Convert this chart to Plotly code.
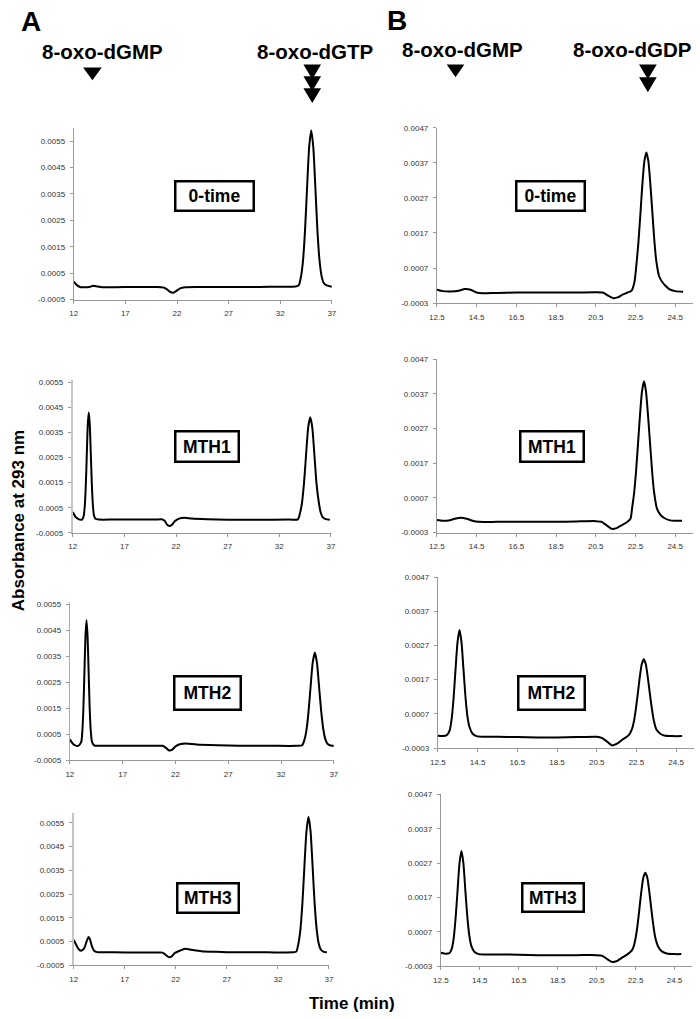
import plotly.graph_objects as go

W, H = 700, 1019

# ---------------- data ----------------
# Panel A (8-oxo-dGTP substrate), time in min, absorbance at 293 nm
a0_t = [12.0, 12.3, 12.6, 13.0, 13.5, 13.9, 14.3, 14.8, 16, 18, 20, 20.7, 21.0, 21.3, 21.6, 21.9, 22.3, 22.8,
        24, 26, 28, 30, 32, 33.5, 33.8, 34.0, 34.2, 34.4, 34.6, 34.8, 35.0, 35.2, 35.4, 35.6, 35.8, 36.0,
        36.2, 36.5, 37.0]
a0_v = [0.00018, 0.00005, -0.00002, -0.00003, -0.00002, 0.00003, 0.0, -0.00003, -0.00003, -0.00002, -0.00002,
        -0.00004, -0.00010, -0.00020, -0.00024, -0.00018, -0.00007, -0.00003, -0.00002, -0.00002, -0.00002,
        -0.00002, -0.00001, 0.0, 0.00005, 0.00035, 0.00096, 0.00212, 0.00375, 0.00527, 0.0059, 0.00527,
        0.00375, 0.00212, 0.00100, 0.00040, 0.00014, 0.00004, -0.00001]

a1_t = [12.0, 12.3, 12.6, 12.9, 13.05, 13.15, 13.25, 13.35, 13.45, 13.55, 13.65, 13.75, 13.85, 13.95, 14.05,
        14.2, 14.5, 16, 18, 20, 20.6, 20.9, 21.1, 21.35, 21.6, 21.9, 22.3, 22.8, 23.5, 25, 27, 30, 33, 33.8,
        34.0, 34.2, 34.4, 34.6, 34.8, 35.0, 35.2, 35.4, 35.6, 35.8, 36.0, 36.2, 36.5, 36.9]
a1_v = [0.00033, 0.00012, 0.00004, 0.00003, 0.00016, 0.0005, 0.00127, 0.0025, 0.00378, 0.0043, 0.00378,
        0.0026, 0.0014, 0.0006, 0.0002, 0.00006, 0.00003, 0.00003, 0.00003, 0.00003, 0.00004, -0.00002,
        -0.00015, -0.00023, -0.00018, -0.00003, 0.00007, 0.0001, 0.00007, 0.00004, 0.00002, 0.00002, 0.00003,
        0.00004, 0.00027, 0.0007, 0.0015, 0.00263, 0.00369, 0.0041, 0.00369, 0.00263, 0.0015, 0.0008, 0.00033,
        0.00013, 0.00005, 0.00002]

a2_t = [12.0, 12.25, 12.5, 12.8, 13.08, 13.18, 13.28, 13.38, 13.48, 13.58, 13.68, 13.78, 13.88, 13.98, 14.1,
        14.3, 14.7, 16, 18, 20, 20.8, 21.1, 21.4, 21.7, 22.0, 22.5, 23.0, 24, 26, 28, 31, 33.5, 34.0, 34.2,
        34.4, 34.6, 34.8, 35.0, 35.2, 35.4, 35.6, 35.8, 36.0, 36.2, 36.4, 36.7, 37.0]
a2_v = [0.0003, 0.00015, 0.00007, 0.00005, 0.0002, 0.00058, 0.00145, 0.00284, 0.00427, 0.0049, 0.00427,
        0.0029, 0.0015, 0.00065, 0.0002, 0.00007, 0.00005, 0.00005, 0.00005, 0.00005, 0.00005, -0.00003,
        -0.00013, -0.0001, 0.00003, 0.00012, 0.00014, 0.0001, 0.00007, 0.00005, 0.00005, 0.00005, 0.00007,
        0.00026, 0.00064, 0.00135, 0.00234, 0.00326, 0.00365, 0.00326, 0.00234, 0.0014, 0.0007, 0.0003,
        0.00013, 0.00006, 0.00005]

a3_t = [12.0, 12.2, 12.45, 12.7, 12.95, 13.1, 13.25, 13.45, 13.6, 13.8, 14.0, 14.3, 14.8, 16, 18, 20, 20.7,
        21.0, 21.3, 21.6, 21.9, 22.4, 22.9, 23.4, 24.5, 26, 28, 31, 33.5, 33.8, 34.0, 34.2, 34.4, 34.6, 34.8,
        35.0, 35.2, 35.4, 35.6, 35.8, 36.0, 36.2, 36.5, 36.8]
a3_v = [0.00057, 0.0004, 0.0002, 0.00012, 0.00018, 0.0003, 0.0005, 0.0007, 0.00058, 0.00028, 0.00012,
        0.00006, 0.00005, 0.00005, 0.00004, 0.00004, 0.00004, -0.00005, -0.00015, -0.00012, 0.00002, 0.00012,
        0.0002, 0.00017, 0.0001, 0.00007, 0.00005, 0.00005, 0.00005, 0.00008, 0.00039, 0.00098, 0.0021,
        0.00367, 0.00514, 0.00575, 0.00514, 0.00367, 0.0021, 0.00102, 0.00042, 0.00017, 0.00007, 0.00005]

# Panel B (8-oxo-dGDP substrate)
b0_t = [12.5, 12.8, 13.2, 13.6, 13.9, 14.2, 14.5, 14.8, 15.5, 16.5, 17.5, 18.5, 19.5, 20.5, 20.85, 21.1, 21.4,
        21.6, 21.85, 22.1, 22.3, 22.45, 22.55, 22.65, 22.75, 22.85, 22.95, 23.05, 23.15, 23.25, 23.35, 23.45,
        23.55, 23.7, 23.85, 24.0, 24.2, 24.5, 24.9]
b0_v = [0.00008, 0.00004, 0.00003, 0.00005, 0.0001, 0.00008, 0.0, -0.00002, -0.00001, 0.0, 0.0, 0.0, 0.0,
        0.00001, 0.0, -0.00008, -0.00016, -0.00014, -0.00006, 0.0, 0.00005, 0.0003, 0.0008, 0.00144, 0.00225,
        0.0031, 0.00375, 0.0040, 0.00375, 0.0031, 0.0023, 0.0015, 0.0009, 0.00045, 0.0003, 0.0002, 0.0001,
        0.00004, 0.00002]

b1_t = [12.5, 12.8, 13.1, 13.4, 13.7, 14.0, 14.3, 14.6, 15.5, 16.5, 17.5, 18.5, 19.5, 20.5, 20.8, 21.0, 21.3,
        21.55, 21.8, 22.05, 22.25, 22.33, 22.43, 22.53, 22.63, 22.73, 22.83, 22.93, 23.03, 23.13, 23.23, 23.33,
        23.43, 23.58, 23.75, 23.95, 24.2, 24.5, 24.85]
b1_v = [0.00006, 0.00004, 0.00005, 0.0001, 0.00013, 0.0001, 0.00004, 0.00001, 0.00001, 0.00001, 0.00001,
        0.00001, 0.00002, 0.00003, 0.00001, -0.00007, -0.00019, -0.00017, -0.00009, -0.00001, 0.0001, 0.0004,
        0.00083, 0.00146, 0.00227, 0.0031, 0.00377, 0.00406, 0.00377, 0.0031, 0.00232, 0.00153, 0.0009, 0.0004,
        0.00022, 0.00012, 0.00006, 0.00004, 0.00004]

b2_t = [12.5, 12.75, 12.95, 13.09, 13.19, 13.29, 13.39, 13.49, 13.59, 13.69, 13.79, 13.89, 13.99, 14.1, 14.25,
        14.45, 14.8, 15.5, 16.5, 17.5, 18.5, 19.5, 20.5, 20.75, 21.0, 21.25, 21.5, 21.8, 22.1, 22.27, 22.37,
        22.47, 22.57, 22.67, 22.77, 22.87, 22.97, 23.07, 23.17, 23.27, 23.37, 23.5, 23.7, 23.9, 24.3, 24.8]
b2_v = [0.00006, 0.00005, 0.00008, 0.00021, 0.00053, 0.00115, 0.002, 0.0028, 0.00315, 0.0028, 0.002, 0.0012,
        0.00062, 0.0003, 0.00012, 0.00005, 0.00003, 0.00003, 0.00002, 0.00001, 0.00001, 0.00002, 0.00003, 0.0,
        -0.0001, -0.00022, -0.00018, -0.00005, 0.00007, 0.00025, 0.00047, 0.00084, 0.0013, 0.00178, 0.00216,
        0.0023, 0.00216, 0.00178, 0.00132, 0.00088, 0.00052, 0.00025, 0.00012, 0.00007, 0.00005, 0.00005]

b3_t = [12.5, 12.75, 12.95, 13.06, 13.16, 13.26, 13.36, 13.46, 13.56, 13.66, 13.76, 13.86, 13.96, 14.07, 14.22,
        14.45, 14.8, 15.5, 16.5, 17.5, 18.5, 19.5, 20.5, 20.8, 21.05, 21.3, 21.55, 21.85, 22.1, 22.3, 22.4,
        22.5, 22.6, 22.7, 22.8, 22.9, 23.0, 23.1, 23.2, 23.3, 23.4, 23.5, 23.65, 23.85, 24.1, 24.5, 24.85]
b3_v = [0.00009, 0.00006, 0.00008, 0.0002, 0.0005, 0.0011, 0.0019, 0.0027, 0.00305, 0.0027, 0.0019, 0.00115,
        0.0006, 0.00028, 0.00012, 0.00005, 0.00004, 0.00004, 0.00003, 0.00002, 0.00002, 0.00002, 0.00002, 0.0,
        -0.0001, -0.00018, -0.00015, -0.00004, 0.00005, 0.00015, 0.00027, 0.00051, 0.00089, 0.00138, 0.00189,
        0.00228, 0.00242, 0.00228, 0.00189, 0.0014, 0.00094, 0.00056, 0.00028, 0.00013, 0.00007, 0.00005,
        0.00005]

sample_labels = ["0-time", "MTH1", "MTH2", "MTH3"]
a_xticks = [12, 17, 22, 27, 32, 37]
b_xticks = [12.5, 14.5, 16.5, 18.5, 20.5, 22.5, 24.5]
a_yticks = [-0.0005, 0.0005, 0.0015, 0.0025, 0.0035, 0.0045, 0.0055]
b_yticks = [-0.0003, 0.0007, 0.0017, 0.0027, 0.0037, 0.0047]

# ---------------- layout helpers (pixel geometry) ----------------
def xd(p0, p1):
    return [p0 / W, p1 / W]

def yd(top, bot):
    return [1 - bot / H, 1 - top / H]

def px(x):
    return x / W

def py(y):
    return 1 - y / H

# (trace t, trace v, x-dom px, y-dom px (top,bottom), x range, y range, column, y-line colour, y-line width)
panels = [
    (a0_t, a0_v, (67, 330), (124.9, 298.3), [12, 37], [-0.0005, 0.006], "A", "#999", 1),
    (b0_t, b0_v, (437, 698), (125.0, 301.7), [12.5, 25.4], [-0.0003, 0.0047], "B", "#999", 1),
    (a1_t, a1_v, (66, 329), (379.0, 533.6), [12, 37], [-0.0005, 0.0056], "A", "#c4c4c4", 2),
    (b1_t, b1_v, (437, 698), (358.3, 533.3), [12.5, 25.4], [-0.0003, 0.0047], "B", "#999", 1),
    (a2_t, a2_v, (63, 332), (603.4, 762.8), [12, 37], [-0.0005, 0.0056], "A", "#aaa", 1),
    (b2_t, b2_v, (438, 699), (578.2, 750.7), [12.5, 25.4], [-0.0003, 0.0047], "B", "#999", 1),
    (a3_t, a3_v, (67, 327), (816.4, 970.0), [12, 37], [-0.0005, 0.0059], "A", "#c4c4c4", 2),
    (b3_t, b3_v, (441, 697), (797.4, 970.7), [12.5, 25.4], [-0.0003, 0.0047], "B", "#999", 1),
]

fig = go.Figure()
layout = dict(width=W, height=H, margin=dict(l=0, r=0, t=0, b=0),
              paper_bgcolor="white", plot_bgcolor="white", showlegend=False,
              font=dict(family="Liberation Sans, Arial, sans-serif", color="black"))

tickfont = dict(family="Liberation Sans, Arial, sans-serif", size=8, color="#333")
for i, (t, v, xdom, ydom, xr, yr, col, ylc, ylw) in enumerate(panels, start=1):
    xa = "x" if i == 1 else f"x{i}"
    ya = "y" if i == 1 else f"y{i}"
    fig.add_trace(go.Scatter(x=t, y=v, mode="lines", xaxis=xa, yaxis=ya,
                             line=dict(color="black", width=2, shape="spline", smoothing=0.6),
                             hoverinfo="skip"))
    xticks = a_xticks if col == "A" else b_xticks
    yticks = a_yticks if col == "A" else b_yticks
    layout["xaxis" if i == 1 else f"xaxis{i}"] = dict(
        domain=xd(*xdom), range=xr, anchor=ya, showgrid=False, zeroline=False,
        showline=True, linecolor="#999", linewidth=1, ticks="outside", ticklen=3,
        tickcolor="#999", tickvals=xticks, ticktext=[(f"{x:g}" if col == "A" else f"{x:.1f}") for x in xticks],
        tickfont=tickfont, ticklabelstandoff=3, fixedrange=True)
    layout["yaxis" if i == 1 else f"yaxis{i}"] = dict(
        domain=yd(*ydom), range=yr, anchor=xa, showgrid=False, zeroline=False,
        showline=True, linecolor=ylc, linewidth=ylw, ticks="outside", ticklen=3,
        tickcolor="#999", tickvals=yticks, ticktext=[f"{y:.4f}" for y in yticks],
        tickfont=tickfont, ticklabelstandoff=3, fixedrange=True)

# ---------------- annotations ----------------
bold = lambda s: f"<b>{s}</b>"
ann = []
def text(s, x, y, size, xanchor="center", yanchor="middle", angle=0):
    ann.append(dict(text=bold(s), x=px(x), y=py(y), xref="paper", yref="paper",
                    xanchor=xanchor, yanchor=yanchor, showarrow=False, textangle=angle,
                    font=dict(size=size, color="black", family="Liberation Sans, Arial, sans-serif")))

text("A", 11, 18, 28, xanchor="left")
text("B", 384, 17, 28, xanchor="left")
text("8-oxo-dGMP", 96, 48, 20.5)
text("8-oxo-dGTP", 313, 48, 20.5)
text("8-oxo-dGMP", 463, 46, 20.5)
text("8-oxo-dGDP", 636, 46, 20.5)
text("Absorbance at 293 nm", 11, 521, 17, angle=-90)
text("Time (min)", 350, 1008, 17)

# sample label boxes (center px)
box_centers = [(210, 194), (553, 194), (203, 446), (554, 446), (203, 695), (554, 695), (204, 902), (555, 901)]
box_sizes = [(76, 27), (66, 27), (61, 28), (61, 28), (64, 31), (64, 31), (59, 27), (59, 26)]
for k, ((cx, cy), (bw, bh)) in enumerate(zip(box_centers, box_sizes)):
    lab = sample_labels[k // 2]
    ann.append(dict(text=bold(lab), x=px(cx), y=py(cy), xref="paper", yref="paper",
                    xanchor="center", yanchor="middle", showarrow=False,
                    width=bw, height=bh, borderpad=0, bordercolor="black", borderwidth=2.5,
                    bgcolor="white",
                    font=dict(size=17.5, color="black", family="Liberation Sans, Arial, sans-serif")))
layout["annotations"] = ann

# ---------------- triangle markers (shapes) ----------------
shapes = []
def tri(cx, top, w, h):
    x0, x1, xm = px(cx - w / 2), px(cx + w / 2), px(cx)
    y0, y1 = py(top), py(top + h)
    shapes.append(dict(type="path", xref="paper", yref="paper",
                       path=f"M {x0} {y0} L {x1} {y0} L {xm} {y1} Z",
                       fillcolor="black", line=dict(color="black", width=0)))

tri(86, 64, 19, 13)
tri(456, 61, 18, 13)
for top in (61, 73, 85):
    tri(310, top, 18, 15)
for top in (61, 74):
    tri(652, top, 18, 15)
layout["shapes"] = shapes

fig.update_layout(**layout)
fig.write_html("out.html", config={"displayModeBar": False, "staticPlot": True},
               post_script="document.body.style.margin='0';document.body.style.overflow='hidden';")
